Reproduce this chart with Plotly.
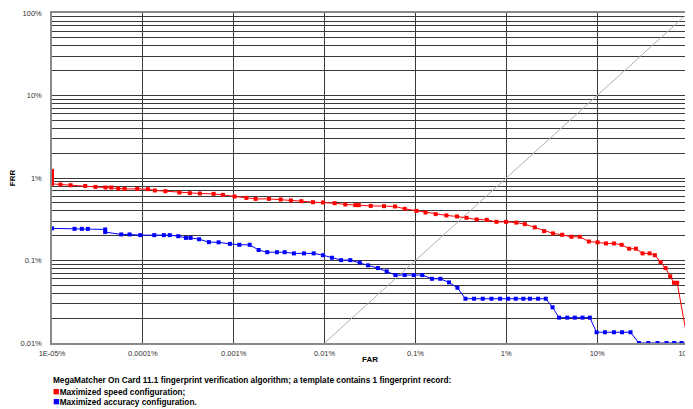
import plotly.graph_objects as go

# ---- data (percent values) ----
speed_far = [1e-5, 1e-5, 1e-5, 1e-5, 1e-5, 1.24e-5, 1.60e-5, 2.32e-5, 3.01e-5, 3.88e-5, 4.49e-5, 5.36e-5,
             6.29e-5, 8.68e-5, 1.135e-4, 1.356e-4, 1.77e-4, 2.52e-4, 3.29e-4, 4.24e-4, 6.01e-4,
             7.60e-4, 1.023e-3, 1.377e-3, 1.742e-3, 2.44e-3, 3.29e-3, 4.26e-3, 5.55e-3, 7.45e-3,
             9.60e-3, 1.29e-2, 1.69e-2, 2.18e-2, 2.38e-2, 3.22e-2, 4.51e-2, 5.96e-2, 7.62e-2,
             0.1026, 0.129, 0.167, 0.219, 0.287, 0.365, 0.473, 0.610, 0.780, 0.995, 1.29, 1.60,
             2.06, 2.61, 3.27, 4.12, 5.22, 6.44, 8.11, 10.1, 12.5, 15.3, 18.6, 22.5, 26.7, 31.6,
             37.8, 43.2, 49.9, 56.6, 63.7, 70.0, 76.0, 100.0]
speed_frr = [1.22, 1.10, 1.0, 0.92, 0.85, 0.834, 0.818, 0.802, 0.780, 0.767, 0.767, 0.746,
             0.738, 0.738, 0.732, 0.706, 0.692, 0.667, 0.655, 0.649, 0.642,
             0.624, 0.597, 0.574, 0.558, 0.558, 0.549, 0.534, 0.524, 0.509,
             0.505, 0.495, 0.478, 0.469, 0.469, 0.459, 0.456, 0.452, 0.423,
             0.400, 0.382, 0.365, 0.352, 0.342, 0.329, 0.314, 0.311, 0.294, 0.294, 0.288, 0.276,
             0.252, 0.227, 0.213, 0.205, 0.194, 0.194, 0.170, 0.166, 0.161, 0.161, 0.155, 0.139,
             0.139, 0.122, 0.122, 0.116, 0.0957, 0.0809, 0.0642, 0.0537, 0.0537, 0.01]

accuracy_far = [1e-5, 1.77e-5, 2.13e-5, 2.48e-5, 3.85e-5, 3.85e-5, 5.78e-5, 7.14e-5, 9.36e-5,
                1.335e-4, 1.70e-4, 1.98e-4, 2.45e-4, 2.98e-4, 3.35e-4, 4.16e-4, 5.33e-4, 6.82e-4,
                9.08e-4, 1.153e-3, 1.50e-3, 1.88e-3, 2.34e-3, 2.99e-3, 3.64e-3, 4.60e-3, 5.93e-3,
                7.59e-3, 9.60e-3, 1.205e-2, 1.52e-2, 1.92e-2, 2.44e-2, 3.01e-2, 3.87e-2, 4.83e-2,
                6.03e-2, 7.62e-2, 9.58e-2, 0.119, 0.152, 0.188, 0.234, 0.290, 0.355, 0.442, 0.551,
                0.687, 0.855, 1.047, 1.27, 1.54, 1.82, 2.24, 2.72, 3.23, 3.81, 4.68, 5.68, 6.90,
                8.31, 9.85, 12.2, 15.3, 18.8, 23.3, 28.8, 36.5, 46.2, 58.1, 70.5, 85.1, 100.0]
accuracy_frr = [0.245, 0.242, 0.242, 0.242, 0.238, 0.221, 0.207, 0.207, 0.203,
                0.203, 0.203, 0.203, 0.197, 0.188, 0.188, 0.181, 0.167, 0.166,
                0.159, 0.155, 0.155, 0.134, 0.126, 0.126, 0.126, 0.122, 0.122,
                0.122, 0.116, 0.108, 0.101, 0.101, 0.0944, 0.0873, 0.0809, 0.0738,
                0.0666, 0.0666, 0.0666, 0.0666, 0.060, 0.060, 0.0543, 0.0467, 0.0344, 0.0344, 0.0344,
                0.0344, 0.0344, 0.0344, 0.0344, 0.0344, 0.0344, 0.0344, 0.0344, 0.0271, 0.0203, 0.0203,
                0.0203, 0.0203, 0.0203, 0.0135, 0.0135, 0.0135, 0.0135, 0.0135, 0.01, 0.01, 0.01,
                0.01, 0.01, 0.01, 0.01]

eer_x = [0.01, 100]
eer_y = [0.01, 100]

x_tickvals = [1e-5, 1e-4, 1e-3, 1e-2, 0.1, 1, 10, 100]
x_ticktext = ["1E-05%", "0.0001%", "0.001%", "0.01%", "0.1%", "1%", "10%", "100%"]
y_tickvals = [0.01, 0.1, 1, 10, 100]
y_ticktext = ["0.01%", "0.1%", "1%", "10%", "100%"]
y_minor = [m * d for d in [0.01, 0.1, 1, 10] for m in range(2, 10)]

caption = "MegaMatcher On Card 11.1 fingerprint verification algorithm; a template contains 1 fingerprint record:"
series_names = ["Maximized speed configuration;", "Maximized accuracy configuration."]
series_colors = ["#ff0000", "#0000ff"]

FONT = "Liberation Sans, Arial, sans-serif"

fig = go.Figure()
fig.add_trace(go.Scatter(x=eer_x, y=eer_y, mode="lines",
                         line=dict(color="#b0b0b0", width=1), hoverinfo="skip", showlegend=False))
for fx, fy, name, col in [(speed_far, speed_frr, series_names[0], series_colors[0]),
                          (accuracy_far, accuracy_frr, series_names[1], series_colors[1])]:
    fig.add_trace(go.Scatter(x=fx, y=fy, mode="lines+markers", name=name,
                             line=dict(color=col, width=1),
                             marker=dict(symbol="square", size=4, color=col),
                             cliponaxis=False, showlegend=False))

fig.update_xaxes(type="log", range=[-5, 2], tickvals=x_tickvals, ticktext=x_ticktext,
                 showgrid=True, gridcolor="#3a3a3a", gridwidth=1, zeroline=False,
                 showline=True, linecolor="#8a8a8a", linewidth=1.5, mirror=True,
                 ticks="", ticklabelstandoff=2, ticklabeloverflow="allow",
                 tickfont=dict(family=FONT, size=7.5, color="#333"),
                 title=dict(text="<b>FAR</b>", font=dict(family=FONT, size=8, color="#000"), standoff=0))
fig.update_yaxes(type="log", range=[-2, 2], tickvals=y_tickvals, ticktext=y_ticktext,
                 showgrid=True, gridcolor="#3a3a3a", gridwidth=1, zeroline=False,
                 minor=dict(tickvals=y_minor, showgrid=True, gridcolor="#3a3a3a", gridwidth=1),
                 showline=True, linecolor="#8a8a8a", linewidth=1.5, mirror=True,
                 ticks="", ticklabelstandoff=7, ticklabeloverflow="allow",
                 tickfont=dict(family=FONT, size=7.5, color="#333"),
                 title=dict(text="<b>FRR</b>", font=dict(family=FONT, size=8, color="#000"), standoff=4))

annots = [dict(text="<b>" + caption + "</b>", x=0, y=0, xref="paper", yref="paper",
               xanchor="left", yanchor="middle", yshift=-37, xshift=-1, showarrow=False,
               font=dict(family=FONT, size=8.25, color="#000"))]
for i, (name, col) in enumerate(zip(series_names, series_colors)):
    annots.append(dict(text='<span style="color:%s;font-size:11px">■</span><b>%s</b>' % (col, name),
                       x=0, y=0, xref="paper", yref="paper", xanchor="left", yanchor="middle",
                       yshift=-47.5 - 10 * i, xshift=-1, showarrow=False,
                       font=dict(family=FONT, size=8.25, color="#000")))

# the page places the figure 8 px in from the top-left corner
fig.update_layout(width=685, height=401, margin=dict(l=44, r=5, t=4.5, b=66, autoexpand=False),
                  paper_bgcolor="#fff", plot_bgcolor="#fff", showlegend=False,
                  annotations=annots, font=dict(family=FONT))
fig.write_html("out.html")
